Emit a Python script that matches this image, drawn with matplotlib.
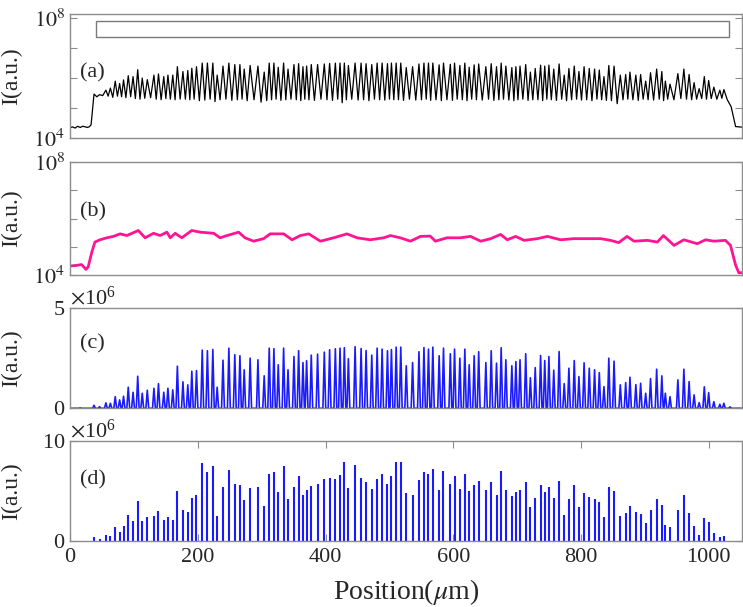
import numpy as np
import matplotlib
matplotlib.use("Agg")
import matplotlib.pyplot as plt
from matplotlib.patches import Rectangle
from matplotlib.ticker import ScalarFormatter

plt.rcParams['font.family'] = ['Liberation Serif', 'DejaVu Serif']
plt.rcParams['mathtext.fontset'] = 'stix'

# positions des pics (um), communes aux quatre panneaux
peak_pos = [16, 37.6, 46.3, 56.2, 63.2, 70.8, 77.7, 83.8, 91.2, 98.7,
            106, 113.1, 121, 131.4, 138.5, 146.8, 153.3, 160.9, 168.1, 176.8,
            184.4, 190.7, 198, 207, 215.1, 223.6, 230.4, 239.5, 248.7, 258,
            266, 272.7, 282, 294.2, 304, 311.9, 319.2, 326, 334.4, 341.3,
            350.6, 357.9, 364.7, 370.4, 377.7, 387.6, 398.1, 406.4, 415.4, 422.7,
            429.5, 435.8, 446.3, 455.7, 463.5, 472.4, 480.8, 488.6, 497, 503.2,
            510.6, 517.8, 526.4, 536.3, 546.3, 554.1, 561.2, 568, 577.9, 584.7,
            595.4, 602, 610.3, 618.1, 624.9, 632.7, 639.8, 651, 659.4, 667.7,
            675, 682.3, 691.7, 698, 704.5, 713.4, 720.7, 728.3, 736.7, 743.2,
            749.7, 757.3, 765.7, 773.7, 781, 789.4, 796.7, 804.8, 812.9, 821.2,
            828.6, 835.9, 843.5, 851.7, 861.5, 869.9, 876.6, 885.8, 893.3, 901.2,
            908.8, 918.4, 926.5, 932, 939.3, 951.6, 961, 969.2, 977, 984.9,
            993, 999.8, 1007.9, 1017.3, 1023.6, 1033.2]

# (a) log10(I) : debut, sommets, creux, fin
a_lead_x = [0, 4, 8, 12, 16, 20, 24, 27, 30, 33]
a_lead_log = [4.35, 4.38, 4.34, 4.4, 4.36, 4.4, 4.38, 4.36, 4.38, 4.45]
a_peak_log = [5.47, 5.45, 5.6, 5.67, 5.9, 5.82, 5.94, 6.08, 6.05,
              6.28, 6.0, 5.95, 6.1, 6.14, 6.05, 6.1, 6.1, 6.38, 6.22,
              6.25, 6.33, 6.38, 6.5, 6.5, 6.5, 6.1, 6.4, 6.5, 6.45,
              6.45, 6.3, 6.42, 6.4, 6.2, 6.5, 6.5, 6.36, 6.5, 6.3,
              6.45, 6.48, 6.38, 6.4, 6.45, 6.45, 6.47, 6.49, 6.5, 6.5,
              6.5, 6.42, 6.5, 6.5, 6.48, 6.45, 6.5, 6.5, 6.48, 6.5,
              6.5, 6.5, 6.35, 6.38, 6.47, 6.5, 6.5, 6.5, 6.44, 6.5,
              6.46, 6.5, 6.42, 6.5, 6.36, 6.44, 6.47, 6.38, 6.48, 6.38,
              6.5, 6.4, 6.35, 6.38, 6.4, 6.45, 6.2, 6.32, 6.43, 6.4,
              6.43, 6.3, 6.47, 6.1, 6.32, 6.4, 6.22, 6.38, 6.32, 6.3,
              6.27, 6.05, 6.42, 6.4, 6.1, 6.12, 6.2, 6.1, 6.12, 5.9,
              6.18, 6.3, 6.22, 5.9, 5.8, 6.15, 6.3, 6.12, 5.85, 5.65,
              6.05, 5.92, 5.7, 5.6, 5.62]
a_trough_log = [5.38, 5.42, 5.4, 5.36, 5.4, 5.38, 5.35, 5.38, 5.32,
                5.3, 5.33, 5.35, 5.3, 5.28, 5.32, 5.3, 5.28, 5.3, 5.3,
                5.28, 5.3, 5.25, 5.27, 5.3, 5.22, 5.28, 5.3, 5.26, 5.28,
                5.3, 5.25, 5.28, 5.2, 5.25, 5.28, 5.3, 5.26, 5.28, 5.3,
                5.28, 5.25, 5.3, 5.28, 5.26, 5.3, 5.28, 5.26, 5.3, 5.18,
                5.28, 5.3, 5.27, 5.28, 5.25, 5.3, 5.28, 5.27, 5.3, 5.28,
                5.28, 5.26, 5.3, 5.27, 5.28, 5.3, 5.26, 5.28, 5.25, 5.28,
                5.26, 5.3, 5.28, 5.25, 5.3, 5.28, 5.27, 5.3, 5.26, 5.28,
                5.3, 5.27, 5.25, 5.28, 5.3, 5.26, 5.28, 5.28, 5.25, 5.3,
                5.28, 5.26, 5.3, 5.25, 5.28, 5.3, 5.27, 5.28, 5.25, 5.3,
                5.28, 5.26, 5.25, 5.15, 5.28, 5.3, 5.28, 5.26, 5.3, 5.28,
                5.27, 5.3, 5.25, 5.3, 5.28, 5.32, 5.3, 5.28, 5.3, 5.32,
                5.3, 5.32, 5.3, 5.33]
a_tail_x = [1029, 1035, 1039, 1042, 1052]
a_tail_log = [5.28, 5.05, 4.67, 4.39, 4.37]

# (b) log10(I)
b_x = [0, 10, 18, 25, 28.5, 34, 39, 47, 57.6, 68, 78.4, 89, 107, 117.6, 130.7,
       141, 151.7, 157, 164.6, 175, 190.6, 204, 225, 235, 245.7, 264, 274,
       287.4, 303, 313.5, 334.5, 347.6, 360.6, 373.7, 392, 412.7, 433.6,
       449.3, 470, 491, 501.6, 517, 533, 548.6, 564, 572, 590, 611, 627,
       643, 658.6, 674, 684.6, 697.6, 710.8, 731.6, 747.3, 768, 789, 810,
       830.7, 846, 859, 872, 883, 903.8, 919.5, 929, 945.6, 961, 982, 995,
       1008, 1026, 1034, 1042, 1047, 1052]
b_log = [4.32, 4.34, 4.37, 4.2, 4.29, 4.8, 5.17, 5.25, 5.32, 5.37, 5.46, 5.4,
         5.58, 5.32, 5.48, 5.4, 5.52, 5.32, 5.48, 5.32, 5.58, 5.52, 5.48,
         5.32, 5.4, 5.52, 5.32, 5.2, 5.29, 5.46, 5.46, 5.25, 5.4, 5.46, 5.2,
         5.32, 5.46, 5.32, 5.25, 5.32, 5.4, 5.32, 5.2, 5.37, 5.38, 5.2, 5.32,
         5.32, 5.37, 5.2, 5.29, 5.44, 5.25, 5.37, 5.23, 5.29, 5.37, 5.25,
         5.29, 5.29, 5.29, 5.23, 5.15, 5.37, 5.2, 5.23, 5.17, 5.4, 5.05,
         5.25, 5.11, 5.25, 5.2, 5.23, 5.05, 4.35, 4.08, 4.08]

# (c) hauteurs des pics (x1e6)
c_height = [0.02, 0.15, 0.08, 0.27, 0.25, 0.58, 0.42, 0.6, 1.05, 0.8,
            1.6, 0.75, 0.9, 1.0, 1.23, 0.8, 1.0, 0.92, 2.1, 1.32,
            1.17, 1.85, 1.88, 2.9, 2.87, 2.93, 1.05, 2.4, 3.0, 2.67,
            2.62, 1.92, 2.5, 2.42, 1.62, 3.0, 2.97, 2.17, 3.0, 1.92,
            2.58, 2.87, 2.28, 2.37, 2.65, 2.7, 2.8, 2.92, 2.97, 3.0,
            3.02, 2.47, 3.07, 2.98, 2.88, 2.65, 3.0, 2.95, 2.87, 2.93,
            3.05, 3.05, 2.12, 2.28, 2.82, 3.03, 2.95, 3.05, 2.62, 3.0,
            2.72, 2.95, 2.5, 2.95, 2.17, 2.62, 2.82, 2.28, 2.87, 2.25,
            3.02, 2.42, 2.12, 2.33, 2.42, 2.72, 1.52, 2.03, 2.63, 2.38,
            2.58, 1.9, 2.83, 1.23, 2.0, 2.38, 1.58, 2.27, 2.0, 1.92,
            1.78, 1.08, 2.5, 2.35, 1.17, 1.28, 1.55, 1.18, 1.25, 0.75,
            1.48, 1.95, 1.62, 0.75, 0.58, 1.42, 1.95, 1.33, 0.67, 0.28,
            1.07, 0.78, 0.33, 0.2, 0.25, 0.07]

# (d) hauteurs des raies (x1e6)
d_height = [0.05, 0.47, 0.27, 0.67, 0.57, 1.47, 0.97, 1.5, 2.67, 2.07,
            4.03, 2.0, 2.4, 2.53, 3.07, 2.17, 2.43, 2.13, 5.03, 3.17,
            2.93, 4.3, 4.63, 7.8, 6.97, 7.53, 2.53, 5.43, 7.13, 5.77,
            5.67, 4.17, 5.37, 5.43, 3.5, 6.77, 6.93, 4.97, 7.5, 4.23,
            5.43, 6.5, 4.63, 5.13, 5.57, 5.7, 6.2, 6.3, 6.23, 6.6,
            7.93, 5.37, 7.6, 6.33, 5.93, 5.27, 6.2, 6.7, 5.73, 6.5,
            7.93, 7.9, 4.83, 4.63, 6.1, 6.93, 6.73, 7.2, 5.1, 7.0,
            5.77, 6.53, 5.27, 6.7, 5.07, 5.6, 6.0, 5.1, 5.93, 4.67,
            7.0, 5.17, 4.5, 4.93, 5.17, 5.93, 3.43, 4.3, 5.6, 4.93,
            5.47, 4.3, 6.07, 2.63, 4.2, 5.63, 3.4, 4.87, 4.47, 4.2,
            3.9, 2.47, 5.4, 5.07, 2.57, 2.87, 3.5, 2.97, 2.77, 1.8,
            3.13, 4.23, 3.6, 1.67, 1.4, 3.1, 4.6, 2.83, 1.5, 0.67,
            2.33, 1.97, 0.8, 0.47, 0.53, 0.05]

assert len(peak_pos) == len(c_height) == len(d_height), (len(peak_pos), len(c_height), len(d_height))
assert len(a_peak_log) == len(peak_pos) - 2 and len(a_trough_log) == len(a_peak_log) - 1, (len(a_peak_log), len(a_trough_log))
assert len(b_x) == len(b_log), (len(b_x), len(b_log))

box_x = (41, 1031)
box_logy = (7.35, 7.9)

frame_col = '#8c8c8c'
text_col = '#262626'
blue = '#1a1aff'
pink = '#ff1493'

fig = plt.figure(figsize=(7.43, 6.07), dpi=100)
left, width = 70 / 743, 672 / 743
ax_a = fig.add_axes([left, 1 - 138.3 / 607, width, 124 / 607])
ax_b = fig.add_axes([left, 1 - 275 / 607, width, 112.7 / 607])
ax_c = fig.add_axes([left, 1 - 408.3 / 607, width, 100.3 / 607])
ax_d = fig.add_axes([left, 1 - 541.3 / 607, width, 99.8 / 607])
axes = [ax_a, ax_b, ax_c, ax_d]

# (a)
xa = list(a_lead_x)
ya = list(a_lead_log)
for i in range(len(a_peak_log)):
    xa.append(peak_pos[i + 1])
    ya.append(a_peak_log[i])
    if i < len(a_trough_log):
        xa.append(0.5 * (peak_pos[i + 1] + peak_pos[i + 2]))
        ya.append(a_trough_log[i])
xa += a_tail_x
ya += a_tail_log
ax_a.semilogy(xa, 10 ** np.array(ya), color='k', lw=0.9)
ax_a.add_patch(Rectangle((box_x[0], 10 ** box_logy[0]), box_x[1] - box_x[0],
                         10 ** box_logy[1] - 10 ** box_logy[0],
                         fill=False, edgecolor='#7a7a7a', lw=1.0))
ax_a.set_ylim(1e4, 10 ** 8.12)

# (b)
ax_b.semilogy(b_x, 10 ** np.array(b_log), color=pink, lw=2.0)
ax_b.set_ylim(1e4, 1e8)

for ax in (ax_a, ax_b):
    ax.set_yticks([1e4, 1e5, 1e6, 1e7, 1e8])
    ax.set_yticklabels([r'$10^4$', '', '', '', r'$10^8$'])
    ax.minorticks_off()

# (c) pics fins
hw = 2.2
xc, yc = [0], [0]
for p, h in zip(peak_pos, c_height):
    xc += [p - hw, p, p + hw]
    yc += [0, h * 1e6, 0]
xc.append(1052)
yc.append(0)
ax_c.plot(xc, yc, color=blue, lw=1.2)
ax_c.set_ylim(0, 5e6)
ax_c.set_yticks([0, 5e6])

# (d) raies
ax_d.vlines(peak_pos, 0, np.array(d_height) * 1e6, color=blue, lw=1.5)
ax_d.set_ylim(0, 1e7)
ax_d.set_yticks([0, 1e7])

for ax in (ax_c, ax_d):
    fmt = ScalarFormatter(useMathText=True)
    fmt.set_powerlimits((6, 6))
    ax.yaxis.set_major_formatter(fmt)
    ax.yaxis.get_offset_text().set_fontsize(16)
    ax.yaxis.get_offset_text().set_color(text_col)

labels = ['(a)', '(b)', '(c)', '(d)']
label_y = [0.53, 0.56, 0.64, 0.62]
for ax, lab, ly in zip(axes, labels, label_y):
    ax.set_xlim(0, 1052)
    ax.text(0.015, ly, lab, transform=ax.transAxes, fontsize=16,
            va='center', ha='left', color=text_col)
    ax.set_ylabel('I(a.u.)', fontsize=17, color=text_col)
    ax.yaxis.set_label_coords(-0.071, 0.5)
    for s in ax.spines.values():
        s.set_color(frame_col)
        s.set_linewidth(1.0)
    ax.tick_params(axis='y', direction='in', length=5, color=frame_col,
                   labelsize=16, labelcolor=text_col, left=True, right=True)
    if ax is ax_d:
        ax.set_xticks([0, 200, 400, 600, 800, 1000])
        ax.tick_params(axis='x', direction='in', length=5, color=frame_col,
                       labelsize=16, labelcolor=text_col, top=True, bottom=True, pad=5)
    else:
        ax.set_xticks([])

ax_d.set_xlabel(r'Position($\mu$m)', fontsize=20, color=text_col, labelpad=7)

fig.savefig('out.png', dpi=100, facecolor='white')
